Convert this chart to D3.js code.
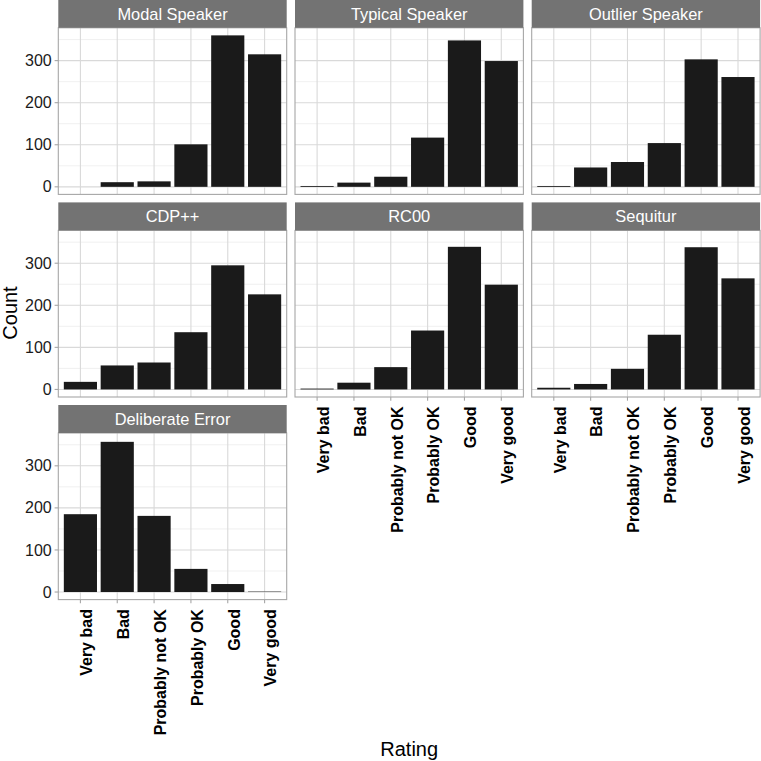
<!DOCTYPE html>
<html>
<head>
<meta charset="utf-8">
<script src="https://cdn.jsdelivr.net/npm/d3@7"></script>
<style>
  html, body { margin: 0; padding: 0; background: #fff; }
  svg { display: block; font-family: "Liberation Sans", Arial, Helvetica, sans-serif; }
</style>
</head>
<body>
<svg id="chart" width="761" height="761"></svg>
<script>
// ---- data ----
const ratings = ["Very bad", "Bad", "Probably not OK", "Probably OK", "Good", "Very good"];
const panelNames = ["Modal Speaker", "Typical Speaker", "Outlier Speaker", "CDP++", "RC00", "Sequitur", "Deliberate Error"];
const modalSpeaker    = [0, 11, 13, 101, 360, 315];
const typicalSpeaker  = [2, 10, 24, 117, 348, 299];
const outlierSpeaker  = [2, 46, 59, 104, 303, 261];
const cdpPlusPlus     = [18, 57, 64, 136, 295, 226];
const rc00            = [2, 16, 53, 140, 339, 249];
const sequitur        = [4, 13, 49, 130, 338, 264];
const deliberateError = [185, 357, 181, 55, 19, 1];
const yTicks = [0, 100, 200, 300];
const yMinorTicks = [50, 150, 250, 350];
const xTitle = "Rating";
const yTitle = "Count";

const seriesValues = [modalSpeaker, typicalSpeaker, outlierSpeaker, cdpPlusPlus, rc00, sequitur, deliberateError];

// ---- layout ----
const svg = d3.select("#chart");
const nCol = 3;
const left = 58.3, right = 760.1;
const gapX = 8.3;
const panelW = (right - left - gapX * (nCol - 1)) / nCol;
const stripTops = [-0.2, 202.4, 405];
const stripH = 28;
const panelH = 166.6;

const maxVal = d3.max(seriesValues.flat());
const y = d3.scaleLinear()
  .domain([-0.05 * maxVal, 1.05 * maxVal])
  .range([panelH, 0]);
const x = d3.scaleBand()
  .domain(ratings)
  .range([0, panelW])
  .paddingInner(0.1)
  .paddingOuter(0.15)
  .align(0.5);

const stripFill = "#737373";
const borderCol = "#a6a6a6";
const gridMajor = "#d9d9d9";
const gridMinor = "#e9e9e9";
const barFill = "#1a1a1a";
const tickCol = "#a6a6a6";

panelNames.forEach((name, i) => {
  const col = i % nCol, row = Math.floor(i / nCol);
  const px = left + col * (panelW + gapX);
  const sTop = stripTops[row];
  const pTop = sTop + stripH;
  const g = svg.append("g").attr("transform", `translate(${px},${pTop})`);

  // strip
  svg.append("rect")
    .attr("x", px).attr("y", sTop)
    .attr("width", panelW).attr("height", stripH)
    .attr("fill", stripFill);
  svg.append("text")
    .attr("x", px + panelW / 2).attr("y", sTop + 20)
    .attr("text-anchor", "middle")
    .attr("fill", "#ffffff")
    .attr("font-size", 16.4)
    .text(name);

  // panel background
  g.append("rect").attr("width", panelW).attr("height", panelH).attr("fill", "#fff");

  // minor grid
  g.selectAll("line.ymin").data(yMinorTicks.filter(t => y(t) > 0)).enter().append("line")
    .attr("x1", 0).attr("x2", panelW)
    .attr("y1", d => y(d)).attr("y2", d => y(d))
    .attr("stroke", gridMinor).attr("stroke-width", 0.7);
  // major grid
  g.selectAll("line.ymaj").data(yTicks).enter().append("line")
    .attr("x1", 0).attr("x2", panelW)
    .attr("y1", d => y(d)).attr("y2", d => y(d))
    .attr("stroke", gridMajor).attr("stroke-width", 1.1);
  g.selectAll("line.xmaj").data(ratings).enter().append("line")
    .attr("x1", d => x(d) + x.bandwidth() / 2).attr("x2", d => x(d) + x.bandwidth() / 2)
    .attr("y1", 0).attr("y2", panelH)
    .attr("stroke", gridMajor).attr("stroke-width", 1.1);

  // bars
  const vals = seriesValues[i];
  g.selectAll("rect.bar").data(ratings.map((r, k) => ({ r, v: vals[k] }))).enter().append("rect")
    .attr("x", d => x(d.r))
    .attr("width", x.bandwidth())
    .attr("y", d => y(d.v))
    .attr("height", d => y(0) - y(d.v))
    .attr("fill", barFill);

  // border
  g.append("rect").attr("width", panelW).attr("height", panelH)
    .attr("fill", "none").attr("stroke", borderCol).attr("stroke-width", 1.1);

  // y axis on first column
  if (col === 0) {
    const ya = g.append("g");
    ya.selectAll("line").data(yTicks).enter().append("line")
      .attr("x1", -3.7).attr("x2", 0)
      .attr("y1", d => y(d)).attr("y2", d => y(d))
      .attr("stroke", tickCol).attr("stroke-width", 1.1);
    ya.selectAll("text").data(yTicks).enter().append("text")
      .attr("x", -6.6).attr("y", d => y(d))
      .attr("dy", "0.35em")
      .attr("text-anchor", "end")
      .attr("font-size", 16)
      .attr("fill", "#1a1a1a")
      .text(d => d3.format("d")(d));
  }

  // x axis at bottom panel of each column
  const isBottom = (i + nCol >= panelNames.length);
  if (isBottom) {
    const xa = g.append("g").attr("transform", `translate(0,${panelH})`);
    xa.selectAll("line").data(ratings).enter().append("line")
      .attr("x1", d => x(d) + x.bandwidth() / 2).attr("x2", d => x(d) + x.bandwidth() / 2)
      .attr("y1", 0).attr("y2", 3.7)
      .attr("stroke", tickCol).attr("stroke-width", 1.1);
    xa.selectAll("text").data(ratings).enter().append("text")
      .attr("transform", d => `translate(${x(d) + x.bandwidth() / 2},9.5) rotate(-90)`)
      .attr("dy", "0.74em")
      .attr("text-anchor", "end")
      .attr("font-size", 16)
      .attr("font-weight", "bold")
      .attr("fill", "#000")
      .text(d => d);
  }
});

// axis titles
svg.append("text")
  .attr("x", (left + right) / 2).attr("y", 755.7)
  .attr("text-anchor", "middle")
  .attr("font-size", 20)
  .attr("fill", "#000")
  .text(xTitle);
svg.append("text")
  .attr("transform", "translate(16.7,313) rotate(-90)")
  .attr("text-anchor", "middle")
  .attr("font-size", 20)
  .attr("fill", "#000")
  .text(yTitle);
</script>
</body>
</html>
